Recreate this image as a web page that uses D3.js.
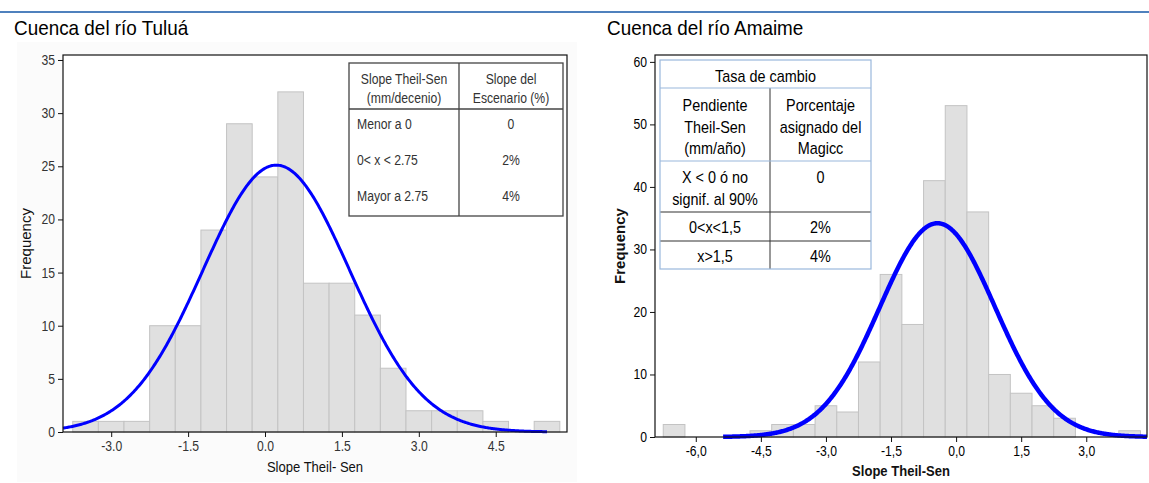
<!DOCTYPE html>
<html>
<head>
<meta charset="utf-8">
<script src="https://cdn.jsdelivr.net/npm/d3@7"></script>
<style>
body { margin: 0; background: #fff; }
svg { display: block; }
</style>
</head>
<body>
<div id="vis"></div>
<script>
// ---- data ----
var binWidth = 0.5;

// Cuenca del río Tuluá
var tuluaCenters = [-3.5, -3.0, -2.5, -2.0, -1.5, -1.0, -0.5, 0.0, 0.5, 1.0, 1.5, 2.0, 2.5, 3.0, 3.5, 4.0, 4.5, 5.0, 5.5];
var tuluaCounts  = [1, 1, 1, 10, 10, 19, 29, 24, 32, 14, 14, 11, 6, 2, 2, 2, 1, 0, 1];
var tuluaMean = 0.22, tuluaSd = 1.43;     // fitted normal
var tuluaXTicks = [-3.0, -1.5, 0.0, 1.5, 3.0, 4.5];
var tuluaXLabels = ["-3.0", "-1.5", "0.0", "1.5", "3.0", "4.5"];
var tuluaYTicks = [0, 5, 10, 15, 20, 25, 30, 35];
var tuluaTableHead = [["Slope Theil-Sen", "(mm/decenio)"], ["Slope del", "Escenario (%)"]];
var tuluaTableRows = [["Menor a 0", "0"], ["0< x < 2.75", "2%"], ["Mayor a 2.75", "4%"]];

// Cuenca del río Amaime
var amaimeCenters = [-6.5, -4.5, -4.0, -3.5, -3.0, -2.5, -2.0, -1.5, -1.0, -0.5, 0.0, 0.5, 1.0, 1.5, 2.0, 2.5, 4.0];
var amaimeCounts  = [2, 1, 2, 2, 5, 4, 12, 26, 18, 41, 53, 36, 10, 7, 5, 3, 1];
var amaimeMean = -0.43, amaimeSd = 1.33;
var amaimeXTicks = [-6.0, -4.5, -3.0, -1.5, 0.0, 1.5, 3.0];
var amaimeXLabels = ["-6,0", "-4,5", "-3,0", "-1,5", "0,0", "1,5", "3,0"];
var amaimeYTicks = [0, 10, 20, 30, 40, 50, 60];
var amaimeTableTitle = "Tasa de cambio";
var amaimeTableHead = [["Pendiente", "Theil-Sen", "(mm/año)"], ["Porcentaje", "asignado del", "Magicc"]];
var amaimeTableRows = [[["X < 0 ó no", "signif. al 90%"], ["0"]], [["0<x<1,5"], ["2%"]], [["x>1,5"], ["4%"]]];

var W = 1149, H = 483;
var sans = "'Liberation Sans', Arial, sans-serif";
var squeeze = 0.87;   // the original text is a narrow face

var svg = d3.select("#vis").append("svg")
    .attr("width", W).attr("height", H)
    .attr("font-family", sans);

// horizontally squeezed text (Arial Narrow look)
function ntext(parent, x, y, s, anchor, sx) {
    return parent.append("text")
        .attr("transform", "translate(" + x + "," + y + ") scale(" + (sx || squeeze) + ",1)")
        .attr("text-anchor", anchor || "start")
        .text(s);
}

// top rule
svg.append("line")
    .attr("x1", 0).attr("x2", W).attr("y1", 12).attr("y2", 12)
    .attr("stroke", "#4f81bd").attr("stroke-width", 2);

// titles
var titles = svg.append("g").attr("font-size", 21).attr("fill", "#000");
ntext(titles, 14, 35, "Cuenca del río Tuluá", "start", 0.9);
ntext(titles, 607, 35, "Cuenca del río Amaime", "start", 0.9);

// normal curve expected counts
function fitted(mean, sd, n) {
    return function (x) {
        var z = (x - mean) / sd;
        return n * binWidth * Math.exp(-0.5 * z * z) / (sd * Math.sqrt(2 * Math.PI));
    };
}

function histogram(opt) {
    var g = svg.append("g");

    var x = d3.scaleLinear().domain(opt.xDomain).range([opt.left, opt.right]);
    var y = d3.scaleLinear().domain(opt.yDomain).range([opt.bottom, opt.top]);

    if (opt.bg) {
        g.append("rect").attr("x", opt.bg[0]).attr("y", opt.bg[1])
            .attr("width", opt.bg[2]).attr("height", opt.bg[3]).attr("fill", opt.bg[4]);
    }
    g.append("rect")
        .attr("x", opt.left).attr("y", opt.top)
        .attr("width", opt.right - opt.left).attr("height", opt.bottom - opt.top)
        .attr("fill", "#fff");

    var bins = opt.centers.map(function (c, i) { return {c: c, n: opt.counts[i]}; })
        .filter(function (d) { return d.n > 0; });

    g.selectAll(".bar").data(bins).enter().append("rect")
        .attr("class", "bar")
        .attr("x", function (d) { return x(d.c - binWidth / 2); })
        .attr("width", function (d) { return x(d.c + binWidth / 2) - x(d.c - binWidth / 2); })
        .attr("y", function (d) { return y(d.n); })
        .attr("height", function (d) { return y(0) - y(d.n); })
        .attr("fill", "#e0e0e0")
        .attr("stroke", "#c3c3c3")
        .attr("stroke-width", 1);

    var f = fitted(opt.mean, opt.sd, d3.sum(opt.counts));
    var xs = d3.range(opt.curve[0], opt.curve[1], 0.02).concat([opt.curve[1]]);
    g.append("path")
        .datum(xs)
        .attr("fill", "none")
        .attr("stroke", "#0000ff")
        .attr("stroke-width", opt.curveWidth)
        .attr("stroke-linejoin", "round")
        .attr("d", d3.line().x(function (d) { return x(d); }).y(function (d) { return y(f(d)); }));

    // frame
    g.append("rect")
        .attr("x", opt.left).attr("y", opt.top)
        .attr("width", opt.right - opt.left).attr("height", opt.bottom - opt.top)
        .attr("fill", "none").attr("stroke", "#111").attr("stroke-width", 1.2);

    var xAxis = g.append("g")
        .attr("transform", "translate(0," + opt.bottom + ")")
        .call(d3.axisBottom(x).tickValues(opt.xTicks).tickSize(5).tickPadding(4)
            .tickFormat(function (d, i) { return opt.xLabels[i]; }));
    var yAxis = g.append("g")
        .attr("transform", "translate(" + opt.left + ",0)")
        .call(d3.axisLeft(y).tickValues(opt.yTicks).tickSize(5).tickPadding(3));

    [xAxis, yAxis].forEach(function (a) {
        a.select(".domain").remove();
        a.selectAll("line").attr("stroke", "#111");
        a.selectAll("text")
            .attr("font-family", sans).attr("font-size", 14).attr("fill", opt.tickColor);
    });
    // squeeze tick labels around their anchor
    xAxis.selectAll("text").attr("transform", "scale(" + squeeze + ",1)");
    yAxis.selectAll("text").attr("x", -8 / squeeze).attr("transform", "scale(" + squeeze + ",1)");

    g.append("text")
        .attr("transform", "translate(" + opt.yLabelX + "," + ((opt.top + opt.bottom) / 2) + ") rotate(-90)")
        .attr("text-anchor", "middle")
        .attr("font-size", 15)
        .attr("font-weight", opt.labelWeight).attr("fill", "#111")
        .text("Frequency");

    var xl = g.append("g").attr("font-size", 15)
        .attr("font-weight", opt.labelWeight).attr("fill", "#111");
    ntext(xl, (opt.left + opt.right) / 2, opt.xLabelY, opt.xTitle, "middle");

    return g;
}

histogram({
    left: 63, right: 567, top: 55, bottom: 432,
    xDomain: [-3.94, 5.89], yDomain: [0, 35.47],
    bg: [17, 42, 560, 440, "#fbfbfb"],
    centers: tuluaCenters, counts: tuluaCounts,
    mean: tuluaMean, sd: tuluaSd, curve: [-3.94, 5.5], curveWidth: 3,
    xTicks: tuluaXTicks, xLabels: tuluaXLabels, yTicks: tuluaYTicks,
    tickColor: "#333", labelWeight: "normal",
    yLabelX: 31, xLabelY: 472, xTitle: "Slope Theil- Sen"
});

histogram({
    left: 655, right: 1147, top: 55, bottom: 437,
    xDomain: [-6.94, 4.4], yDomain: [0, 61.1],
    centers: amaimeCenters, counts: amaimeCounts,
    mean: amaimeMean, sd: amaimeSd, curve: [-5.37, 4.4], curveWidth: 4.5,
    xTicks: amaimeXTicks, xLabels: amaimeXLabels, yTicks: amaimeYTicks,
    tickColor: "#000", labelWeight: "bold",
    yLabelX: 625, xLabelY: 476, xTitle: "Slope Theil-Sen"
});

// ---- table inside the Tuluá chart ----
(function () {
    var x0 = 349, x1 = 563, xm = 459, y0 = 63, yh = 109, y1 = 216;
    var t = svg.append("g").attr("font-size", 14).attr("fill", "#333");
    t.append("rect").attr("x", x0).attr("y", y0).attr("width", x1 - x0).attr("height", y1 - y0)
        .attr("fill", "#fff").attr("stroke", "#444").attr("stroke-width", 1.3);
    t.append("line").attr("x1", xm).attr("x2", xm).attr("y1", y0).attr("y2", y1)
        .attr("stroke", "#444").attr("stroke-width", 1.3);
    t.append("line").attr("x1", x0).attr("x2", x1).attr("y1", yh).attr("y2", yh)
        .attr("stroke", "#444").attr("stroke-width", 1.3);
    var colMid = [(x0 + xm) / 2, (xm + x1) / 2];
    tuluaTableHead.forEach(function (lines, c) {
        lines.forEach(function (s, k) {
            ntext(t, colMid[c], 84 + k * 19, s, "middle");
        });
    });
    var rowY = [129, 165, 201];
    tuluaTableRows.forEach(function (r, i) {
        ntext(t, 357, rowY[i], r[0], "start");
        ntext(t, colMid[1], rowY[i], r[1], "middle");
    });
})();

// ---- table inside the Amaime chart ----
(function () {
    var x0 = 660, x1 = 871, xm = 770;
    var lines = [60, 88, 161, 212, 241, 269];
    var blue = "#9ab8dc", dark = "#333";
    var t = svg.append("g").attr("font-size", 16).attr("fill", "#000");
    t.append("rect").attr("x", x0).attr("y", lines[0]).attr("width", x1 - x0)
        .attr("height", lines[5] - lines[0]).attr("fill", "#fff");
    t.append("line").attr("x1", xm).attr("x2", xm).attr("y1", lines[1]).attr("y2", lines[5])
        .attr("stroke", dark).attr("stroke-width", 1);
    [[lines[3], dark], [lines[4], dark], [lines[1], blue], [lines[2], blue]].forEach(function (l) {
        t.append("line").attr("x1", x0).attr("x2", x1).attr("y1", l[0]).attr("y2", l[0])
            .attr("stroke", l[1]).attr("stroke-width", 1.2);
    });
    t.append("rect").attr("x", x0).attr("y", lines[0]).attr("width", x1 - x0)
        .attr("height", lines[5] - lines[0]).attr("fill", "none")
        .attr("stroke", blue).attr("stroke-width", 1.2);

    var colMid = [(x0 + xm) / 2, (xm + x1) / 2];
    ntext(t, (x0 + x1) / 2, 82, amaimeTableTitle, "middle", 0.9);
    amaimeTableHead.forEach(function (ls, c) {
        ls.forEach(function (s, k) {
            ntext(t, colMid[c], 111 + k * 21.5, s, "middle", 0.9);
        });
    });
    var rowTop = [183, 233, 262];
    amaimeTableRows.forEach(function (r, i) {
        r.forEach(function (cell, c) {
            cell.forEach(function (s, k) {
                ntext(t, colMid[c], rowTop[i] + k * 21.5, s, "middle", 0.9);
            });
        });
    });
})();
</script>
</body>
</html>
